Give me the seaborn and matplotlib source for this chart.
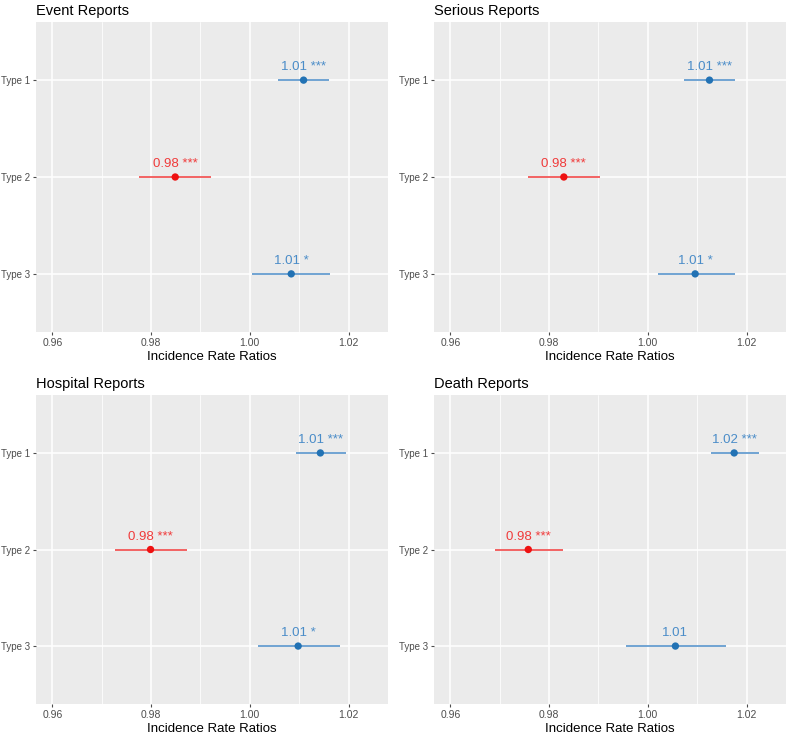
import matplotlib
matplotlib.use("Agg")
import matplotlib.pyplot as plt
import seaborn as sns
import pandas as pd
import numpy as np

types = ["Type 1", "Type 2", "Type 3"]
titles = ["Event Reports", "Serious Reports", "Hospital Reports", "Death Reports"]

event_irr = [1.0109, 0.9849, 1.0084]
event_lo = [1.0058, 0.9775, 1.0005]
event_hi = [1.0161, 0.9922, 1.0162]
event_lab = ["1.01 ***", "0.98 ***", "1.01 *"]

serious_irr = [1.0125, 0.9830, 1.0096]
serious_lo = [1.0074, 0.9757, 1.0020]
serious_hi = [1.0176, 0.9904, 1.0176]
serious_lab = ["1.01 ***", "0.98 ***", "1.01 *"]

hospital_irr = [1.0143, 0.9799, 1.0098]
hospital_lo = [1.0093, 0.9727, 1.0016]
hospital_hi = [1.0195, 0.9873, 1.0183]
hospital_lab = ["1.01 ***", "0.98 ***", "1.01 *"]

death_irr = [1.0175, 0.9758, 1.0056]
death_lo = [1.0128, 0.9690, 0.9955]
death_hi = [1.0225, 0.9829, 1.0159]
death_lab = ["1.02 ***", "0.98 ***", "1.01"]

x_ticks = [0.96, 0.98, 1.00, 1.02]
x_ticklabels = ["0.96", "0.98", "1.00", "1.02"]
x_label = "Incidence Rate Ratios"

panels = [
    (event_irr, event_lo, event_hi, event_lab),
    (serious_irr, serious_lo, serious_hi, serious_lab),
    (hospital_irr, hospital_lo, hospital_hi, hospital_lab),
    (death_irr, death_lo, death_hi, death_lab),
]

sns.set_theme(style="darkgrid", rc={
    "axes.facecolor": "#EBEBEB",
    "grid.color": "white",
    "axes.edgecolor": "#EBEBEB",
})
plt.rcParams["font.family"] = ["Liberation Sans", "DejaVu Sans"]

BLUE_PT = "#2272B4"
BLUE_LN = "#4A8CC8"
RED_PT = "#EE1111"
RED_LN = "#F03A3A"

fig = plt.figure(figsize=(7.9, 7.37), dpi=100)
positions = [
    (36 / 790, 1 - 332 / 737, 352 / 790, 310 / 737),
    (434 / 790, 1 - 332 / 737, 352 / 790, 310 / 737),
    (36 / 790, 1 - 704 / 737, 352 / 790, 309 / 737),
    (434 / 790, 1 - 704 / 737, 352 / 790, 309 / 737),
]

for (irr, lo, hi, lab), title, pos in zip(panels, titles, positions):
    ax = fig.add_axes(pos)
    df = pd.DataFrame({"type": types, "irr": irr, "lo": lo, "hi": hi, "lab": lab})
    df["dir"] = np.where(df["irr"] < 1, "down", "up")
    ypos = np.arange(len(types))
    line_cols = [RED_LN if d == "down" else BLUE_LN for d in df["dir"]]
    ax.hlines(ypos, df["lo"], df["hi"], colors=line_cols, linewidth=1.1, zorder=3)
    sns.scatterplot(data=df, x="irr", y=ypos, hue="dir",
                    palette={"down": RED_PT, "up": BLUE_PT},
                    s=28, edgecolor="none", legend=False, ax=ax, zorder=4)
    for yi, (x, t, d) in enumerate(zip(df["irr"], df["lab"], df["dir"])):
        ax.annotate(t, (x, yi), xytext=(0, 5), textcoords="offset points",
                    ha="center", va="bottom", fontsize=9.5,
                    color=RED_LN if d == "down" else BLUE_LN, zorder=5)
    ax.set_xlim(0.9567, 1.0280)
    ax.set_ylim(2.6, -0.6)
    ax.set_xticks(x_ticks)
    ax.set_xticklabels(x_ticklabels)
    ax.set_xticks([0.97, 0.99, 1.01], minor=True)
    ax.set_yticks(ypos)
    ax.set_yticklabels(types)
    ax.grid(which="major", color="white", linewidth=1.1)
    ax.grid(which="minor", axis="x", color="white", linewidth=0.55)
    ax.tick_params(axis="both", which="major", colors="#4D4D4D",
                   length=2.5, width=0.8, pad=2, left=True, bottom=True, labelcolor="#4D4D4D")
    ax.tick_params(axis="x", which="major", labelsize=7.5)
    ax.tick_params(axis="y", which="major", labelsize=7, pad=1.5)
    ax.tick_params(which="minor", length=0)
    ax.set_xlabel(x_label, fontsize=9.5, color="black", labelpad=2)
    ax.set_ylabel("")
    ax.set_title(title, loc="left", fontsize=10.5, color="black", pad=5)
    for s in ax.spines.values():
        s.set_visible(False)

fig.savefig("out.png", dpi=100, facecolor="white")
